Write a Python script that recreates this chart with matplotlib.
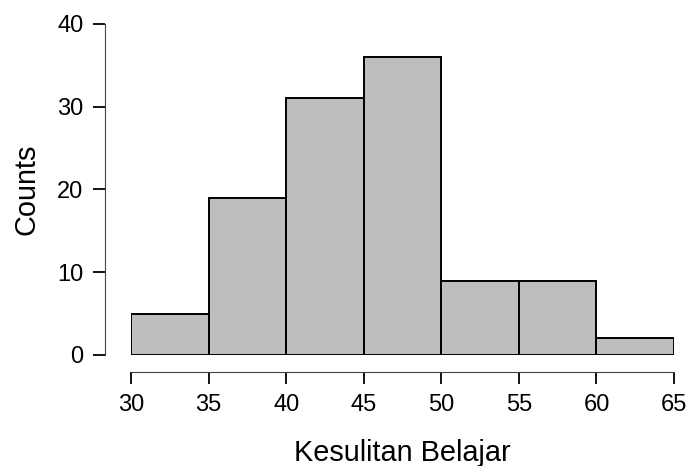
import numpy as np
import matplotlib
matplotlib.use("Agg")
import matplotlib.pyplot as plt

plt.rcParams['font.family'] = ['Liberation Sans', 'DejaVu Sans']

# histogram data
bin_edges = [30, 35, 40, 45, 50, 55, 60, 65]
counts = [5, 19, 31, 36, 9, 9, 2]
x_ticks = [30, 35, 40, 45, 50, 55, 60, 65]
y_ticks = [0, 10, 20, 30, 40]

fig = plt.figure(figsize=(6.88, 4.66), dpi=100)
ax = fig.add_axes([0.1904, 0.2382, 0.7893, 0.7103])

widths = np.diff(bin_edges)
ax.bar(bin_edges[:-1], counts, width=widths, align='edge',
       color='#bebebe', edgecolor='black', linewidth=1.4)

ax.set_xlim(bin_edges[0], bin_edges[-1])
ax.set_ylim(0, 40)

for s in ['top', 'right']:
    ax.spines[s].set_visible(False)
ax.spines['bottom'].set_position(('outward', 12.2))
ax.spines['left'].set_position(('outward', 18.7))
ax.spines['bottom'].set_bounds(30, 65)
ax.spines['left'].set_bounds(0, 40)
ax.spines['bottom'].set_linewidth(0.8)
ax.spines['left'].set_linewidth(0.8)
ax.spines['bottom'].set_color('#444444')
ax.spines['left'].set_color('#444444')

ax.set_xticks(x_ticks)
ax.set_yticks(y_ticks)
ax.tick_params(axis='both', labelsize=17, length=8.6, width=1.3,
               colors='black', pad=7)

ax.set_xlabel('Kesulitan Belajar', fontsize=20.8, labelpad=17)
ax.set_ylabel('Counts', fontsize=20.8, labelpad=12)

fig.savefig('out.png', dpi=100)
